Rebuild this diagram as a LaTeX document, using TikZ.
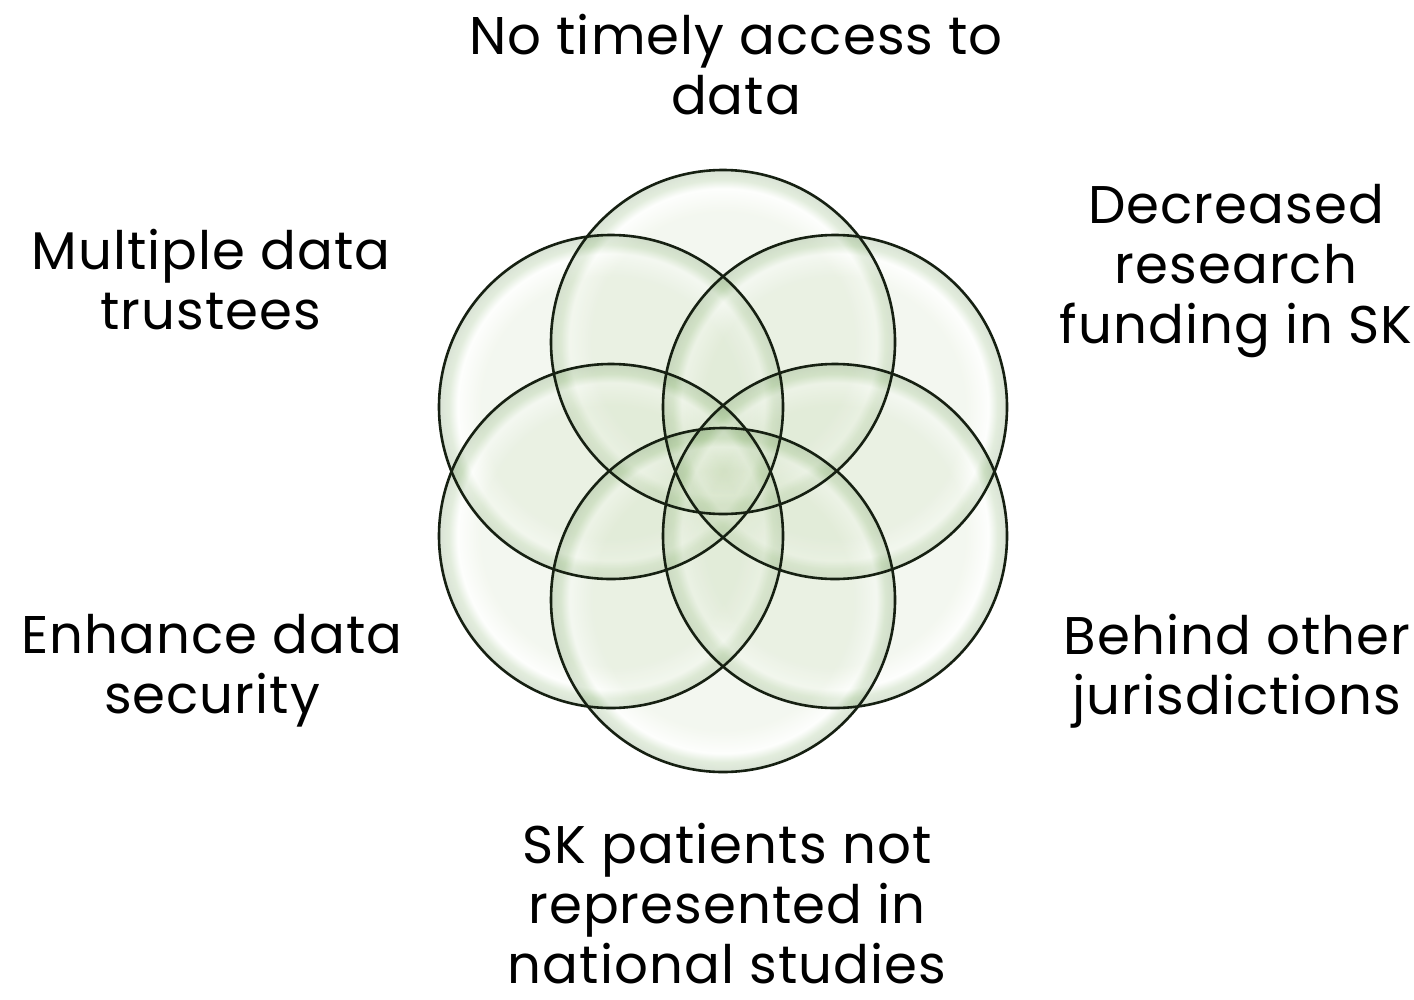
\documentclass[tikz,border=0pt]{standalone}
\usepackage{fontspec}
\newfontfamily\labelfont{Poppins}[LetterSpace=2.0]
\definecolor{bubA}{RGB}{196,216,176}
\definecolor{bubHi}{RGB}{248,252,245}
\definecolor{bubRim}{RGB}{105,160,75}
\definecolor{bubEdge}{RGB}{55,105,35}
\definecolor{ringline}{RGB}{22,32,18}
\pgfdeclareradialshading{bubble}{\pgfpoint{0bp}{0bp}}{%
  color(0bp)=(bubA); color(19bp)=(bubA); color(22.3bp)=(bubHi);
  color(23.6bp)=(bubRim); color(25bp)=(bubEdge); color(50bp)=(bubEdge)}
\tikzset{
  bubfill/.style={shading=bubble, fill opacity=0.19},
  bubline/.style={draw=ringline, line width=2.6pt},
  lbl/.style={font=\labelfont\fontsize{53}{60}\selectfont, align=center, inner sep=0pt, anchor=north, text=black}
}
\begin{document}
\begin{tikzpicture}[x=1pt,y=-1pt]
\useasboundingbox (0,0) rectangle (1414,999);
\fill[white] (0,0) rectangle (1414,999);
\coordinate (cT) at (723,342);
\coordinate (cUL) at (611,407);
\coordinate (cUR) at (835,407);
\coordinate (cLL) at (611,536);
\coordinate (cLR) at (835,536);
\coordinate (cB) at (723,600);
\foreach \c in {cT,cUL,cUR,cLL,cLR,cB}{
  \shade[bubfill] (\c) circle[radius=172];
}
\foreach \c in {cT,cUL,cUR,cLL,cLR,cB}{
  \draw[bubline] (\c) circle[radius=172];
}
\node[lbl] (top) at (736,14) {No timely access to\\data};
\node[lbl] (tl) at (211,229) {Multiple data\\trustees};
\node[lbl] (tr) at (1236,184) {Decreased\\research\\funding in SK};
\node[lbl] (bl) at (212,614) {Enhance data\\security};
\node[lbl] (br) at (1237,614) {Behind other\\jurisdictions};
\node[lbl] (bot) at (727,823) {SK patients not\\represented in\\national studies};
\end{tikzpicture}
\end{document}
